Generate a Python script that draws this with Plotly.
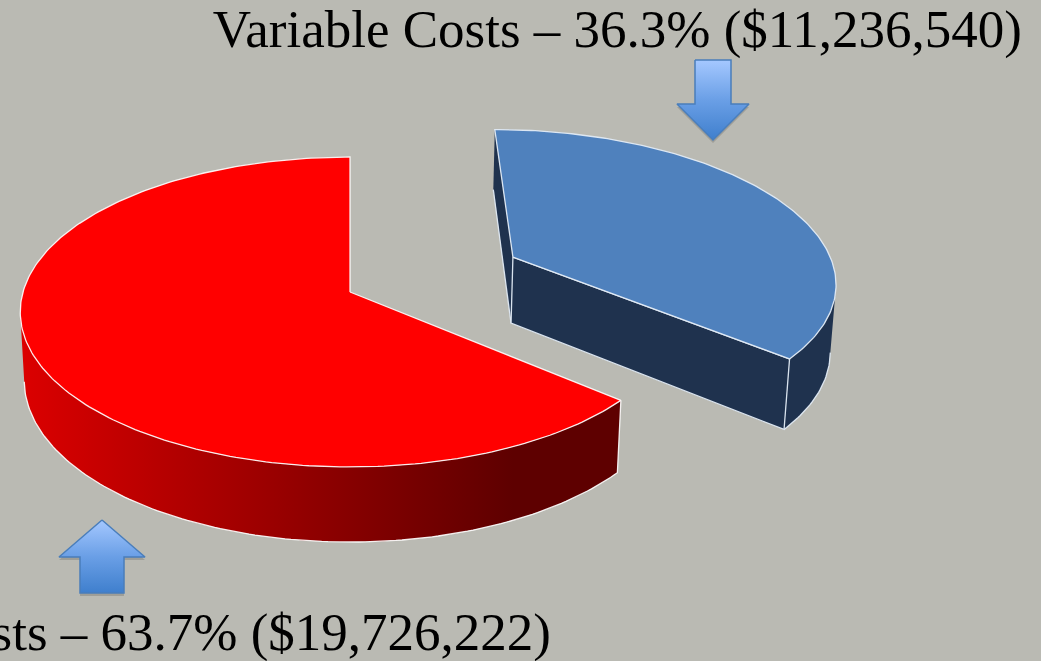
import numpy as np
import plotly.graph_objects as go

categories = ["Fixed Costs", "Variable Costs"]
values = [19726222, 11236540]
slice_colors = ["#ff0000", "#4f81bd"]

WIDTH, HEIGHT = 1041, 661
BG = "#babab3"
EDGE = "rgba(255,255,255,0.9)"
BLUE_EDGE = "rgba(225,235,245,0.95)"
DARK_BLUE = "#1f324e"
NO_LINE = dict(color="rgba(0,0,0,0)", width=0)
EDGE_W = 1.3

# Perspective camera of the 3-D pie, in page pixels
CX, CY, A, B, C, K, M = 350, 292, 327, 152.4, 68.4, 0.129, 0.012
EXPLODE = 0.565


def project(X, Y, Z):
    """Z = 0 is the top face, Z = 1 the bottom face."""
    w = 1 + K * Y + M * Z
    return CX + A * X / w, CY - (B * Y - C * Z) / w


total = sum(values)
shares = [v / total for v in values]
sweep_fixed = shares[0] * 2 * np.pi
sweep_var = shares[1] * 2 * np.pi

# Fixed: runs counter-clockwise from twelve o'clock. Variable: clockwise, pulled out.
t_fixed = np.linspace(0, -sweep_fixed, 240)
t_var = np.linspace(0, sweep_var, 160)
mid = sweep_var / 2
OX, OY = EXPLODE * np.sin(mid), EXPLODE * np.cos(mid)


def arc(t, z, ox=0.0, oy=0.0):
    return project(ox + np.sin(t), oy + np.cos(t), z * np.ones_like(t))


def poly(xs, ys, **kw):
    kw.setdefault("hoverinfo", "skip")
    return go.Scatter(x=list(xs), y=list(ys), mode="lines", fill="toself", **kw)


def edge(xs, ys, color):
    return go.Scatter(x=list(xs), y=list(ys), mode="lines", hoverinfo="skip",
                      line=dict(color=color, width=EDGE_W))


fig = go.Figure()

# --- Variable Costs slice ---
top_x, top_y = arc(t_var, 0, OX, OY)
bot_x, bot_y = arc(t_var, 1, OX, OY)
ax0, ay0 = project(OX, OY, 0)
ax1, ay1 = project(OX, OY, 1)
sv = int(np.argmax(top_x))  # right-hand silhouette of the rim

fig.add_trace(poly([ax0, top_x[0], bot_x[0], ax1, ax0], [ay0, top_y[0], bot_y[0], ay1, ay0],
                   fillcolor=DARK_BLUE, line=NO_LINE))
fig.add_trace(edge([ax1, bot_x[0]], [ay1, bot_y[0]], BLUE_EDGE))
fig.add_trace(poly(np.r_[top_x[sv:], bot_x[sv:][::-1]], np.r_[top_y[sv:], bot_y[sv:][::-1]],
                   fillcolor=DARK_BLUE, line=NO_LINE))
fig.add_trace(poly([ax0, top_x[-1], bot_x[-1], ax1, ax0], [ay0, top_y[-1], bot_y[-1], ay1, ay0],
                   fillcolor=DARK_BLUE, line=dict(color=BLUE_EDGE, width=EDGE_W)))
fig.add_trace(edge(bot_x[sv:], bot_y[sv:], BLUE_EDGE))
fig.add_trace(poly(np.r_[ax0, top_x, ax0], np.r_[ay0, top_y, ay0],
                   fillcolor=slice_colors[1], line=dict(color=BLUE_EDGE, width=EDGE_W)))

# --- Fixed Costs slice ---
ftop_x, ftop_y = arc(t_fixed, 0)
fbot_x, fbot_y = arc(t_fixed, 1)
fax0, fay0 = project(0.0, 0.0, 0)
sf = int(np.argmin(ftop_x))  # left-hand silhouette of the rim

fig.add_trace(go.Scatter(
    x=list(np.r_[ftop_x[sf:], fbot_x[sf:][::-1]]),
    y=list(np.r_[ftop_y[sf:], fbot_y[sf:][::-1]]),
    mode="lines", fill="toself", hoverinfo="skip",
    line=NO_LINE,
    fillgradient=dict(type="horizontal", colorscale=[
        [0.0, "#dc0000"], [0.25, "#b40000"], [0.55, "#860000"],
        [0.82, "#5e0000"], [1.0, "#5e0000"]]),
))
fig.add_trace(edge(np.r_[fbot_x[sf:], ftop_x[-1]], np.r_[fbot_y[sf:], ftop_y[-1]], EDGE))
fig.add_trace(poly(np.r_[fax0, ftop_x, fax0], np.r_[fay0, ftop_y, fay0],
                   fillcolor=slice_colors[0], line=dict(color=EDGE, width=EDGE_W)))

# --- Callout arrows ---
down_x = [695, 731, 731, 749, 713, 677, 695, 695]
down_y = [60, 60, 104, 104, 140, 104, 104, 60]
up_x = [102, 145, 124, 124, 80, 80, 59, 102]
up_y = [520, 557, 557, 593, 593, 557, 557, 520]
ARROW_SCALE = [[0.0, "#3f7fcd"], [0.5, "#6a9fe6"], [1.0, "#a5c8ff"]]

for xs, ys in ((down_x, down_y), (up_x, up_y)):
    fig.add_trace(poly(xs, [y + 3 for y in ys], fillcolor="rgba(60,60,60,0.22)", line=NO_LINE))
    fig.add_trace(go.Scatter(
        x=xs, y=ys, mode="lines", fill="toself", hoverinfo="skip",
        line=dict(color="#4a7ebb", width=1.5),
        fillgradient=dict(type="vertical", colorscale=ARROW_SCALE),
    ))

# --- Labels ---
labels = [f"{c} – {s * 100:.1f}% (${v:,})" for c, s, v in zip(categories, shares, values)]
FONT = dict(family="Liberation Serif", size=53, color="#000000")
fig.add_trace(go.Scatter(x=[1022], y=[34], mode="text", text=[labels[1]], textposition="middle left",
                         textfont=FONT, hoverinfo="skip", cliponaxis=True))
fig.add_trace(go.Scatter(x=[551], y=[637], mode="text", text=[labels[0]], textposition="middle left",
                         textfont=FONT, hoverinfo="skip", cliponaxis=True))

fig.update_layout(
    width=WIDTH, height=HEIGHT, autosize=False,
    margin=dict(l=0, r=0, t=0, b=0),
    paper_bgcolor=BG, plot_bgcolor=BG, showlegend=False,
    xaxis=dict(range=[0, WIDTH], visible=False, fixedrange=True),
    yaxis=dict(range=[HEIGHT, 0], visible=False, fixedrange=True),
)
fig.write_html(
    "out.html",
    config={"displayModeBar": False},
    post_script="document.body.style.margin='0';document.body.style.overflow='hidden';",
)
